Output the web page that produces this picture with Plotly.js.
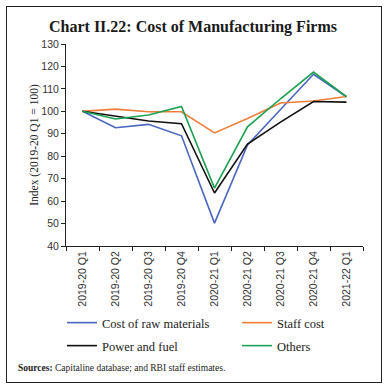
<!DOCTYPE html>
<html>
<head>
<meta charset="utf-8">
<script src="https://cdn.plot.ly/plotly-3.0.1.min.js"></script>
<style>
html,body{margin:0;padding:0;background:#fff;}
#wrap{position:relative;width:386px;height:389px;}
#chart{width:386px;height:389px;}
#frame{position:absolute;left:6px;top:6px;width:374px;height:375px;border:1.5px solid #222;pointer-events:none;}
</style>
</head>
<body>
<div id="wrap"><div id="chart"></div><div id="frame"></div></div>
<script>
var categories = ["2019-20 Q1","2019-20 Q2","2019-20 Q3","2019-20 Q4","2020-21 Q1","2020-21 Q2","2020-21 Q3","2020-21 Q4","2021-22 Q1"];
var rawMaterials = [100, 92.7, 94.2, 89.1, 50.2, 85.0, 100.8, 116.5, 106.5];
var staffCost    = [100, 101.0, 99.8, 99.8, 90.4, 96.8, 103.7, 104.6, 106.6];
var powerFuel    = [100, 97.9, 95.7, 94.5, 63.6, 85.4, 95.2, 104.4, 104.1];
var others       = [100, 96.6, 98.4, 102.2, 65.8, 93.1, 105.6, 117.5, 106.5];
var seriesNames  = ["Cost of raw materials","Staff cost","Power and fuel","Others"];
var seriesColors = ["#4a67c0","#ef7e3a","#111111","#1ba150"];
var yTicks = [40,50,60,70,80,90,100,110,120,130];

var W=386,H=389, L=66, R=23, T=44, B=143;
var pw=W-L-R, ph=H-T-B;
function px(x){return (x-L)/pw;}
function py(y){return (H-B-y)/ph;}

var legIds=['legend','legend2','legend3','legend4'];
var legPos=[[62,323],[237,323],[62,346],[237,346]];
var data=[rawMaterials,staffCost,powerFuel,others].map(function(v,i){
  return {x:categories,y:v,type:'scatter',mode:'lines',name:seriesNames[i],
    line:{color:seriesColors[i],width:1.6},legend:legIds[i]};
});
var serif="'Liberation Serif', 'DejaVu Serif', serif";
var sans="'Liberation Sans', Arial, sans-serif";
var layout={
  width:W,height:H,margin:{l:L,r:R,t:T,b:B},
  paper_bgcolor:'#fff',plot_bgcolor:'#fff',
  showlegend:true,
  title:{text:'<b>Chart II.22: Cost of Manufacturing Firms</b>',font:{family:serif,size:16,color:'#1a1a1a'},
    xref:'container',x:0.5,xanchor:'center',yref:'container',y:1-26/H,yanchor:'middle'},
  xaxis:{type:'category',tickson:'boundaries',ticks:'outside',ticklen:4,tickcolor:'#222',
    showline:true,linecolor:'#222',linewidth:1,showgrid:false,zeroline:false,tickangle:-90,
    tickfont:{family:sans,size:10.5,color:'#333'},range:[-0.5,8.5],fixedrange:true},
  yaxis:{range:[40,130],tickvals:yTicks,ticks:'outside',ticklen:4,tickcolor:'#222',
    showline:true,linecolor:'#222',linewidth:1,showgrid:false,zeroline:false,
    tickfont:{family:sans,size:10.5,color:'#333'},
    title:{text:'Index (2019-20 Q1 = 100)',font:{family:serif,size:11.5,color:'#222'},standoff:0}},
  annotations:[{xref:'paper',yref:'paper',x:px(16),y:py(368),xanchor:'left',yanchor:'middle',showarrow:false,
    text:'<b>Sources:</b> Capitaline database; and RBI staff estimates.',font:{family:serif,size:9.5,color:'#222'}}]
};
legIds.forEach(function(id,i){
  layout[id]={orientation:'h',xref:'paper',yref:'paper',x:px(legPos[i][0]),y:py(legPos[i][1]),
    xanchor:'left',yanchor:'middle',font:{family:serif,size:12.5,color:'#222'},bgcolor:'rgba(0,0,0,0)'};
});
Plotly.newPlot('chart',data,layout,{displayModeBar:false,staticPlot:true});
</script>
</body>
</html>
